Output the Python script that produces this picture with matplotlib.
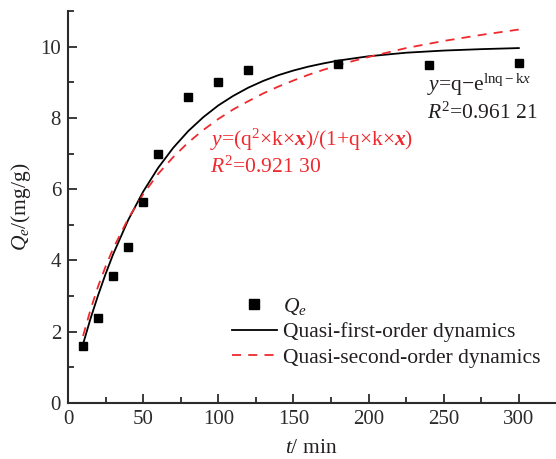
import matplotlib
matplotlib.use("Agg")
import matplotlib.pyplot as plt
from matplotlib.ticker import MultipleLocator

plt.rcParams['font.family'] = ['Liberation Serif', 'DejaVu Serif']
plt.rcParams['mathtext.fontset'] = 'custom'
plt.rcParams['mathtext.rm'] = 'Liberation Serif'
plt.rcParams['mathtext.it'] = 'Liberation Serif:italic'
plt.rcParams['mathtext.bf'] = 'Liberation Serif:italic:bold'
plt.rcParams['axes.unicode_minus'] = True

# measured adsorption capacity
t_obs = [10, 20, 30, 40, 50, 60, 80, 100, 120, 180, 240, 300]
qe_obs = [1.61, 2.38, 3.57, 4.37, 5.65, 6.99, 8.58, 9.02, 9.35, 9.51, 9.49, 9.54]

# fitted curves
t_fit = [10, 15, 20, 25, 30, 40, 50, 60, 70, 80, 90, 100, 110, 120, 130, 140,
         150, 160, 170, 180, 190, 200, 225, 250, 275, 300]
first_order = [1.65, 2.37, 3.02, 3.62, 4.17, 5.13, 5.93, 6.60, 7.16, 7.63, 8.02,
               8.35, 8.62, 8.85, 9.04, 9.20, 9.33, 9.44, 9.53, 9.61, 9.67, 9.73,
               9.83, 9.89, 9.93, 9.96]
second_order = [1.88, 2.62, 3.27, 3.83, 4.33, 5.17, 5.86, 6.43, 6.90, 7.31, 7.66,
                7.97, 8.24, 8.47, 8.69, 8.88, 9.05, 9.21, 9.35, 9.48, 9.60, 9.71,
                9.96, 10.16, 10.33, 10.48]

RED = '#ee2a2e'
INK = '#231f20'
FS = 15.5

fig = plt.figure(figsize=(5.56, 4.59), dpi=100)
ax = fig.add_axes([0.1223, 0.122, 0.8757, 0.854])

ax.plot(t_obs, qe_obs, 's', color='black', markersize=6, label=r'$Q_e$', zorder=3)
ax.plot(t_fit, first_order, '-', color='black', lw=1.3, label='Quasi-first-order dynamics')
ax.plot(t_fit, second_order, '--', color=RED, lw=1.3, dashes=(5, 4),
        label='Quasi-second-order dynamics')

ax.set_xlim(0, 324)
ax.set_ylim(0, 11)
ax.xaxis.set_major_locator(MultipleLocator(50))
ax.xaxis.set_minor_locator(MultipleLocator(25))
ax.yaxis.set_major_locator(MultipleLocator(2))
ax.yaxis.set_minor_locator(MultipleLocator(1))

for side in ['top', 'right']:
    ax.spines[side].set_visible(False)
for side in ['left', 'bottom']:
    ax.spines[side].set_linewidth(1.5)
    ax.spines[side].set_color('#2b2b2b')
ax.tick_params(which='both', direction='in', width=1.3, color='#2b2b2b',
               labelsize=15, labelcolor='#2b2b2b')
ax.tick_params(which='major', length=6.5, pad=5)
ax.tick_params(which='minor', length=4)

ax.set_xlabel(r'$t$/ min', fontsize=FS, color=INK, labelpad=7)
ax.set_ylabel(r'$Q_e$/(mg/g)', fontsize=FS, color=INK, labelpad=5)

ax.text(210, 140, r'$y$=(q$^2$×k×$\mathbf{x}$)/(1+q×k×$\mathbf{x}$)', color=RED,
        fontsize=FS, va='center')
ax.text(210, 167, r'$R^2$=0.921 30', color=RED, fontsize=FS, va='center')
ax.text(427, 85, r'$y$=q−e$^{\mathrm{lnq-k}x}$', color=INK, fontsize=FS, va='center')
ax.text(427, 113, r'$R^2$=0.961 21', color=INK, fontsize=FS, va='center')

# place annotations in pixel coordinates from top-left
for txt in ax.texts:
    x, y = txt.get_position()
    txt.set_transform(fig.dpi_scale_trans)
    txt.set_position((x / 100, (459 - y) / 100))

ax.legend(loc='upper left', bbox_to_anchor=(223 / 556, 1 - 287 / 459),
          bbox_transform=fig.transFigure, frameon=False, fontsize=FS,
          handlelength=2.1, handletextpad=0.3, labelspacing=0.25,
          markerscale=1.15, borderaxespad=0, labelcolor=INK)

fig.savefig('out.png', dpi=100)
